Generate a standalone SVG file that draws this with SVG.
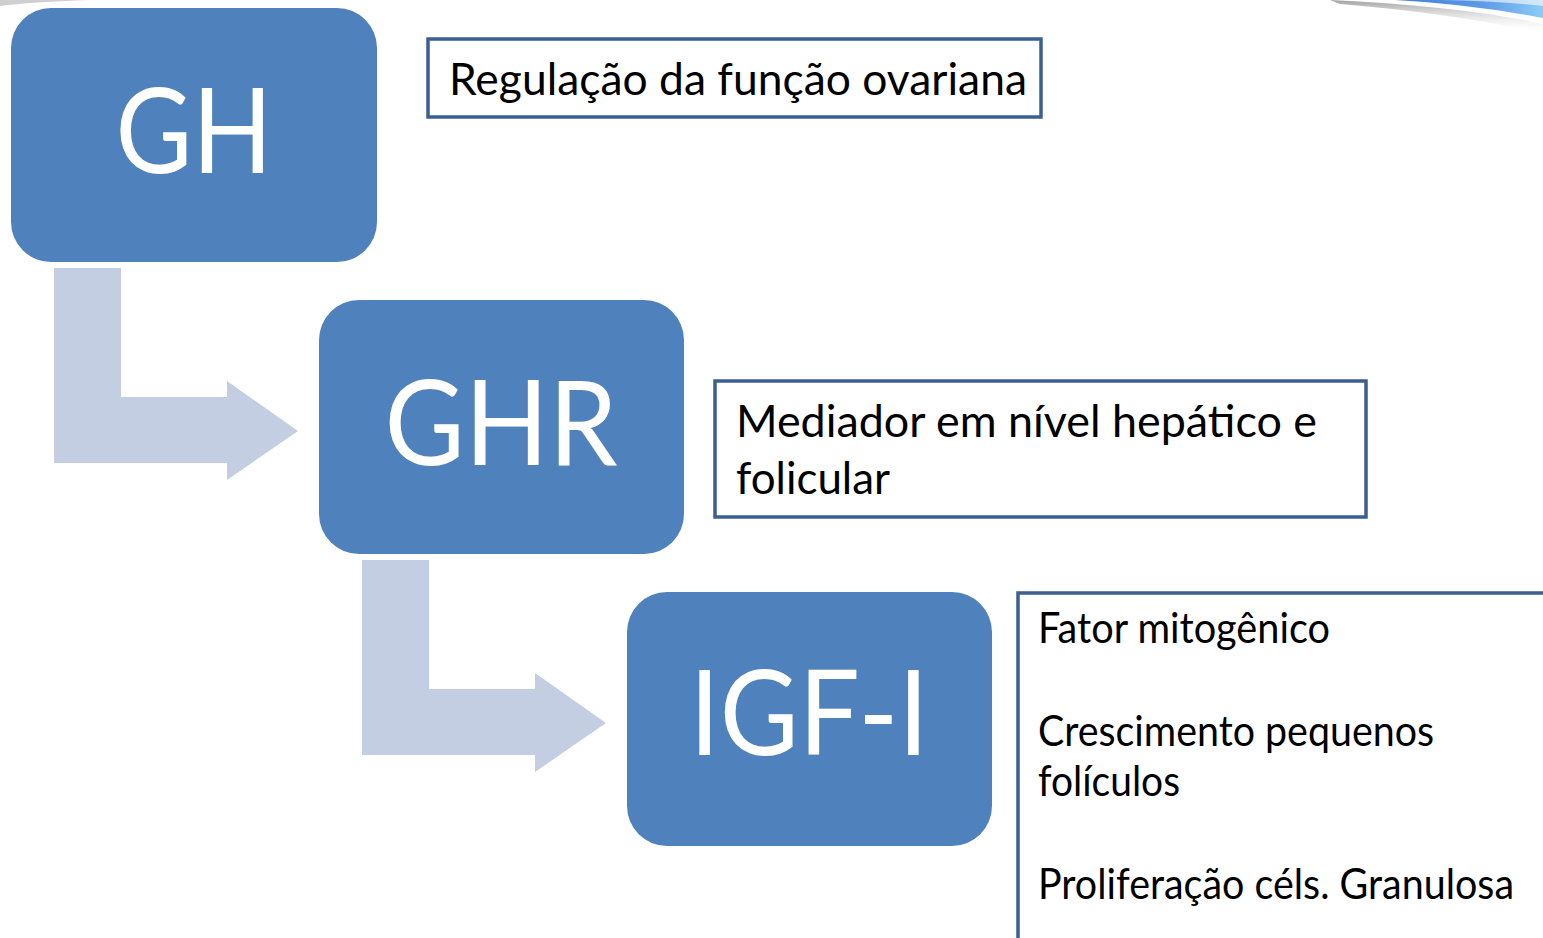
<svg xmlns="http://www.w3.org/2000/svg" width="1543" height="938" viewBox="0 0 1543 938">
<defs>
<style>
.node{fill:#4F81BD}
.big{font-family:Lato,"Open Sans",sans-serif;fill:#fff;text-anchor:middle}
.arrow{fill:#C3CEE2}
.box{fill:#fff;stroke:#3B5F8E;stroke-width:3.5}
.txt{font-family:Lato,"Open Sans",sans-serif;fill:#000}
</style>
<linearGradient id="sw" x1="0" y1="0" x2="1" y2="0">
<stop offset="0" stop-color="#3F7FD6"/>
<stop offset="0.6" stop-color="#5E9BE6"/>
<stop offset="1" stop-color="#8CCBF6"/>
</linearGradient>
<linearGradient id="sh" x1="0" y1="0" x2="0" y2="1">
<stop offset="0" stop-color="#888" stop-opacity="0.8"/>
<stop offset="1" stop-color="#fff" stop-opacity="0"/>
</linearGradient>
</defs>
<rect width="1543" height="938" fill="#fff"/>
<g id="decor">
<path d="M1330,0 Q1460,6 1543,24 L1543,34 Q1460,14 1340,4 Z" fill="url(#sh)"/>
<path d="M1395,0 L1543,0 L1543,18 Q1470,4 1395,0 Z" fill="url(#sw)"/>
<path d="M1440,0 L1543,0 L1543,6 Q1500,1 1440,0 Z" fill="#fff" opacity="0.6"/>
<path d="M0,0 L90,0 Q30,2 0,6 Z" fill="#bbb" opacity="0.7"/>
</g>
<g id="connectors">
<path class="arrow" d="M54,268 H121 V397 H227 V381 L298,431 L227,480 V463 H54 Z"/>
<path class="arrow" d="M362,560 H429 V689 H535 V673 L606,723 L535,772 V755 H362 Z"/>
</g>
<g id="node-gh">
<rect class="node" x="11" y="8" width="366" height="254" rx="40"/>
<text class="big" x="194" y="173" font-size="118" textLength="157" lengthAdjust="spacingAndGlyphs">GH</text>
</g>
<g id="node-ghr">
<rect class="node" x="319" y="300" width="365" height="254" rx="40"/>
<text class="big" x="501" y="465" font-size="118" textLength="233" lengthAdjust="spacingAndGlyphs">GHR</text>
</g>
<g id="node-igf">
<rect class="node" x="627" y="592" width="365" height="254" rx="40"/>
<text class="big" x="809" y="755" font-size="118" textLength="239" lengthAdjust="spacingAndGlyphs">IGF-I</text>
</g>
<g id="box-regulacao">
<rect class="box" x="428" y="39" width="613" height="78"/>
<text class="txt" x="449" y="95" font-size="45" textLength="578" lengthAdjust="spacingAndGlyphs">Regulação da função ovariana</text>
</g>
<g id="box-mediador">
<rect class="box" x="715" y="381" width="651" height="136"/>
<text class="txt" x="736" y="437" font-size="45" textLength="581" lengthAdjust="spacingAndGlyphs">Mediador em nível hepático e</text>
<text class="txt" x="736" y="494" font-size="45" textLength="154" lengthAdjust="spacingAndGlyphs">folicular</text>
</g>
<g id="box-igf-effects">
<rect class="box" x="1018" y="593" width="560" height="400"/>
<text class="txt" x="1038" y="643" font-size="42" textLength="292" lengthAdjust="spacingAndGlyphs">Fator mitogênico</text>
<text class="txt" x="1038" y="746" font-size="42" textLength="396" lengthAdjust="spacingAndGlyphs">Crescimento pequenos</text>
<text class="txt" x="1038" y="796" font-size="42" textLength="142" lengthAdjust="spacingAndGlyphs">folículos</text>
<text class="txt" x="1038" y="899" font-size="42" textLength="476" lengthAdjust="spacingAndGlyphs">Proliferação céls. Granulosa</text>
</g>
</svg>
